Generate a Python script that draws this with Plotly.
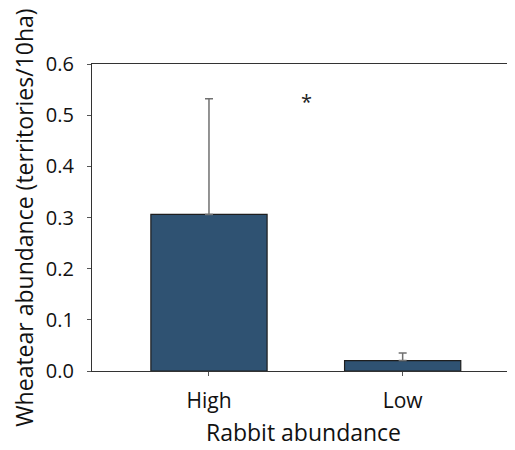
import plotly.graph_objects as go

categories = ["High", "Low"]
means = [0.306, 0.0204]
err_plus = [0.226, 0.015]
y_ticks = [0.0, 0.1, 0.2, 0.3, 0.4, 0.5, 0.6]
y_tick_labels = ["0.0", "0.1", "0.2", "0.3", "0.4", "0.5", "0.6"]
sig_label = "*"
sig_y = 0.532

FONT = "Open Sans"

fig = go.Figure()
fig.add_trace(go.Bar(
    x=categories,
    y=means,
    width=0.6,
    marker=dict(color="#2f5272", line=dict(color="#1e1e1e", width=1.2)),
    error_y=dict(type="data", symmetric=False, array=err_plus,
                 arrayminus=[0, 0], color="#707070", thickness=1.5, width=4),
))

fig.add_annotation(x=0.506, y=sig_y, xref="x", yref="y", text=sig_label,
                   showarrow=False, font=dict(family=FONT, size=20, color="#222"),
                   yanchor="middle", yshift=-3)

# page body has an 8px default margin; size the figure to fit the window
fig.update_layout(
    width=507, height=442,
    margin=dict(l=84, r=0, t=56, b=79),
    plot_bgcolor="white", paper_bgcolor="white",
    showlegend=False,
    font=dict(family=FONT, color="#111"),
)
fig.update_xaxes(
    range=[-0.604, 1.580], automargin=False,
    showline=True, linecolor="#333", linewidth=1.2, mirror=True,
    ticks="outside", ticklen=4, tickcolor="#555",
    tickfont=dict(size=21), ticklabelstandoff=7,
    title=dict(text="Rabbit abundance", font=dict(size=23), standoff=11),
    showgrid=False, zeroline=False,
)
fig.update_yaxes(
    range=[0, 0.6], automargin=False,
    tickvals=y_ticks, ticktext=y_tick_labels,
    showline=True, linecolor="#333", linewidth=1.2,
    ticks="outside", ticklen=4, tickcolor="#555",
    tickfont=dict(size=20), ticklabelstandoff=9,
    title=dict(text="Wheatear abundance (territories/10ha)", font=dict(size=23), standoff=8),
    showgrid=False, zeroline=False,
)

fig.write_html("out.html")
